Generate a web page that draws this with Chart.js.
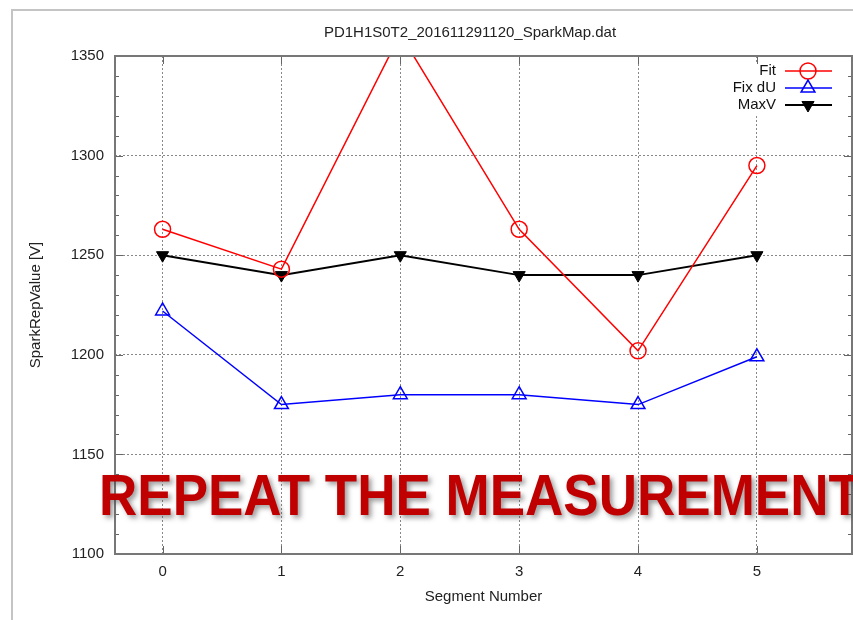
<!DOCTYPE html>
<html>
<head>
<meta charset="utf-8">
<script src="https://cdn.jsdelivr.net/npm/chart.js@4.4.1/dist/chart.umd.min.js"></script>
<style>
  html, body { margin: 0; padding: 0; background: #fff; }
  #wrap { width: 853px; height: 620px; }
</style>
</head>
<body>
<div id="wrap"><canvas id="myChart" width="853" height="620"></canvas></div>
<script>
const segments = [0, 1, 2, 3, 4, 5];
const fitValues = [1263, 1243, 1361, 1263, 1202, 1295];
const fixDuValues = [1222, 1175, 1180, 1180, 1175, 1199];
const maxVValues = [1250, 1240, 1250, 1240, 1240, 1250];
const xTicks = [0, 1, 2, 3, 4, 5];
const yTicks = [1100, 1150, 1200, 1250, 1300, 1350];

const FONT = '"Liberation Sans", Arial, sans-serif';

function toPoints(values) {
  return segments.map((s, i) => ({ x: s, y: values[i] }));
}

// page frame, axis titles, chart title, legend, border, minor ticks, overlay
const decorPlugin = {
  id: 'decor',
  beforeDraw(chart) {
    const ctx = chart.ctx;
    ctx.save();
    ctx.fillStyle = '#fff';
    ctx.fillRect(0, 0, chart.width, chart.height);
    ctx.strokeStyle = '#c4c4c4';
    ctx.lineWidth = 2;
    ctx.strokeRect(12, 10, 900, 700);
    ctx.restore();
  },
  afterDatasetsDraw(chart) {
    const ctx = chart.ctx;
    const a = chart.chartArea;
    const xs = chart.scales.x;
    const ys = chart.scales.y;
    ctx.save();

    // legend background hides the grid
    ctx.fillStyle = '#fff';
    ctx.fillRect(722, 62, 120, 52);

    // ticks (inward, mirrored)
    ctx.strokeStyle = '#666';
    ctx.lineWidth = 1;
    ctx.beginPath();
    for (let v = yTicks[0]; v <= yTicks[yTicks.length - 1]; v += 10) {
      const y = Math.round(ys.getPixelForValue(v)) + 0.5;
      const len = (v % 50 === 0) ? 8 : 4;
      ctx.moveTo(a.left, y); ctx.lineTo(a.left + len, y);
      ctx.moveTo(a.right, y); ctx.lineTo(a.right - len, y);
    }
    xTicks.forEach(t => {
      const x = Math.round(xs.getPixelForValue(t)) + 0.5;
      ctx.moveTo(x, a.bottom); ctx.lineTo(x, a.bottom - 8);
      ctx.moveTo(x, a.top); ctx.lineTo(x, a.top + 8);
    });
    ctx.stroke();

    // border
    ctx.strokeStyle = '#777';
    ctx.lineWidth = 2;
    ctx.strokeRect(a.left, a.top, a.right - a.left, a.bottom - a.top);

    // title
    ctx.fillStyle = '#222';
    ctx.font = '15px ' + FONT;
    ctx.textAlign = 'center';
    ctx.textBaseline = 'middle';
    ctx.fillText('PD1H1S0T2_201611291120_SparkMap.dat', 470, 33);

    // axis titles
    ctx.fillText('Segment Number', (a.left + a.right) / 2, 597);
    ctx.save();
    ctx.translate(36, (a.top + a.bottom) / 2);
    ctx.rotate(-Math.PI / 2);
    ctx.fillText('SparkRepValue [V]', 0, 0);
    ctx.restore();

    // legend: text on the left, sample on the right
    const rows = [71, 88, 105];
    chart.data.datasets.forEach((ds, i) => {
      const y = rows[i];
      ctx.fillStyle = '#111';
      ctx.textAlign = 'right';
      ctx.fillText(ds.label, 776, y);
      ctx.strokeStyle = ds.borderColor;
      ctx.lineWidth = ds.borderWidth;
      ctx.beginPath();
      ctx.moveTo(785, y); ctx.lineTo(832, y);
      ctx.stroke();
      ctx.lineWidth = ds.pointBorderWidth;
      ctx.strokeStyle = ds.pointBorderColor;
      ctx.fillStyle = ds.pointBackgroundColor;
      Chart.helpers.drawPoint(ctx, {
        pointStyle: ds.pointStyle,
        radius: ds.pointRadius,
        rotation: ds.pointRotation || 0,
        borderWidth: ds.pointBorderWidth
      }, 808, y);
    });
    ctx.restore();
  },
  afterDraw(chart) {
    const ctx = chart.ctx;
    ctx.save();
    ctx.font = 'bold 57px ' + FONT;
    ctx.fillStyle = '#c00000';
    ctx.textAlign = 'left';
    ctx.textBaseline = 'alphabetic';
    ctx.shadowColor = 'rgba(60,60,60,0.5)';
    ctx.shadowOffsetX = 3;
    ctx.shadowOffsetY = 3;
    ctx.shadowBlur = 5;
    ctx.translate(99, 515);
    ctx.scale(0.93, 1);
    ctx.fillText('REPEAT THE MEASUREMENT', 0, 0);
    ctx.restore();
  }
};

const ctx = document.getElementById('myChart').getContext('2d');
const myChart = new Chart(ctx, {
  type: 'line',
  data: {
    datasets: [{
      label: 'Fit',
      data: toPoints(fitValues),
      borderColor: '#ff0000',
      borderWidth: 1.5,
      pointStyle: 'circle',
      pointRadius: 8,
      pointBorderWidth: 1.5,
      pointBorderColor: '#ff0000',
      pointBackgroundColor: 'rgba(0,0,0,0)'
    }, {
      label: 'Fix dU',
      data: toPoints(fixDuValues),
      borderColor: '#0000ff',
      borderWidth: 1.5,
      pointStyle: 'triangle',
      pointRadius: 8,
      pointBorderWidth: 1.5,
      pointBorderColor: '#0000ff',
      pointBackgroundColor: 'rgba(0,0,0,0)'
    }, {
      label: 'MaxV',
      data: toPoints(maxVValues),
      borderColor: '#000000',
      borderWidth: 2,
      pointStyle: 'triangle',
      pointRotation: 180,
      pointRadius: 7,
      pointBorderWidth: 1,
      pointBorderColor: '#000000',
      pointBackgroundColor: '#000000'
    }]
  },
  options: {
    responsive: false,
    animation: false,
    events: [],
    layout: { autoPadding: false, padding: { left: 0, top: 56, right: 1, bottom: 0 } },
    plugins: {
      legend: { display: false },
      title: { display: false },
      tooltip: { enabled: false }
    },
    scales: {
      x: {
        type: 'linear',
        min: -0.4,
        max: 5.8,
        afterBuildTicks: axis => { axis.ticks = xTicks.map(v => ({ value: v })); },
        afterFit: axis => { axis.height = 66; axis.paddingLeft = 0; axis.paddingRight = 0; },
        grid: { color: '#888', lineWidth: 1, drawTicks: false },
        border: { display: false, dash: [2, 2] },
        ticks: { padding: 9, color: '#222', font: { family: FONT, size: 15 }, maxRotation: 0,
                 callback: v => String(v) }
      },
      y: {
        min: 1100,
        max: 1350,
        afterBuildTicks: axis => { axis.ticks = yTicks.map(v => ({ value: v })); },
        afterFit: axis => { axis.width = 115; },
        grid: { color: '#888', lineWidth: 1, drawTicks: false },
        border: { display: false, dash: [2, 2] },
        ticks: { padding: 11, color: '#222', font: { family: FONT, size: 15 },
                 callback: v => String(v) }
      }
    }
  },
  plugins: [decorPlugin]
});
</script>
</body>
</html>
